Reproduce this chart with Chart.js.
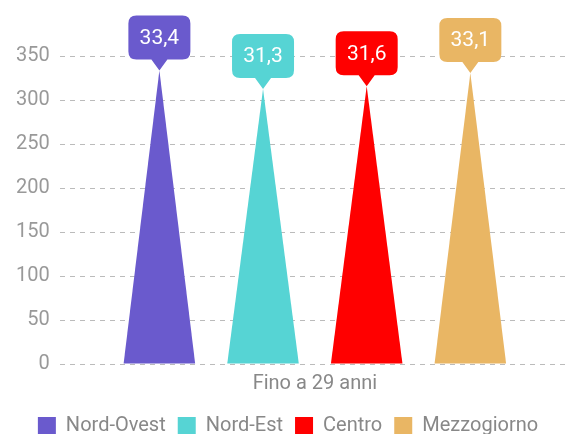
<!DOCTYPE html>
<html>
<head>
<meta charset="utf-8">
<script src="https://cdn.jsdelivr.net/npm/chart.js@4"></script>
<style>
  html, body { margin: 0; padding: 0; background: #fff; }
  #wrap { width: 571px; height: 434px; }
</style>
</head>
<body>
<div id="wrap"><canvas id="chart"></canvas></div>
<script>
const categories = ['Fino a 29 anni'];
const regions = ['Nord-Ovest', 'Nord-Est', 'Centro', 'Mezzogiorno'];
const heights = [334, 313, 316, 331];
const callouts = [33.4, 31.3, 31.6, 33.1];
const colors = ['#6a5acd', '#56d4d4', '#ff0000', '#e9b664'];
const yTicks = [0, 50, 100, 150, 200, 250, 300, 350];

// draw each bar as a triangle with a rounded callout on its tip
const pyramidPlugin = {
    id: 'pyramid',
    beforeDatasetDraw(chart, args) {
        const ctx = chart.ctx;
        const color = colors[args.index];
        args.meta.data.forEach(bar => {
            const half = bar.width / 2;
            ctx.save();
            ctx.fillStyle = color;
            ctx.beginPath();
            ctx.moveTo(bar.x - half, bar.base);
            ctx.lineTo(bar.x, bar.y);
            ctx.lineTo(bar.x + half, bar.base);
            ctx.closePath();
            ctx.fill();
            ctx.restore();
        });
        return false;
    },
    afterDatasetsDraw(chart) {
        const ctx = chart.ctx;
        chart.data.datasets.forEach((ds, i) => {
            chart.getDatasetMeta(i).data.forEach(bar => {
                const w = 62, h = 44, r = 8, tip = 11;
                const x = bar.x - w / 2;
                const y = bar.y - tip - h;
                ctx.save();
                ctx.fillStyle = colors[i];
                ctx.beginPath();
                ctx.moveTo(x + r, y);
                ctx.lineTo(x + w - r, y);
                ctx.quadraticCurveTo(x + w, y, x + w, y + r);
                ctx.lineTo(x + w, y + h - r);
                ctx.quadraticCurveTo(x + w, y + h, x + w - r, y + h);
                ctx.lineTo(bar.x + 8, y + h);
                ctx.lineTo(bar.x, bar.y);
                ctx.lineTo(bar.x - 8, y + h);
                ctx.lineTo(x + r, y + h);
                ctx.quadraticCurveTo(x, y + h, x, y + h - r);
                ctx.lineTo(x, y + r);
                ctx.quadraticCurveTo(x, y, x + r, y);
                ctx.closePath();
                ctx.fill();
                ctx.fillStyle = '#fff';
                ctx.font = '21px Roboto';
                ctx.textAlign = 'center';
                ctx.textBaseline = 'middle';
                ctx.fillText(callouts[i].toFixed(1).replace('.', ','), bar.x, y + h / 2 + 1);
                ctx.restore();
            });
        });
    }
};

new Chart(document.getElementById('chart'), {
    type: 'bar',
    data: {
        labels: categories,
        datasets: regions.map((name, i) => ({
            label: name,
            data: [heights[i]],
            backgroundColor: colors[i],
            borderWidth: 0
        }))
    },
    options: {
        responsive: true,
        maintainAspectRatio: false,
        animation: false,
        layout: { padding: { top: 30, left: 6, right: 1, bottom: -12 } },
        datasets: {
            bar: { categoryPercentage: 0.8125, barPercentage: 0.69 }
        },
        plugins: {
            legend: {
                position: 'bottom',
                labels: {
                    boxWidth: 18,
                    boxHeight: 18,
                    padding: 12,
                    color: '#888',
                    font: { family: 'Roboto', size: 20 }
                }
            },
            tooltip: { enabled: false }
        },
        scales: {
            x: {
                grid: { display: false },
                border: { display: false },
                afterFit(scale) {
                    scale.height = 40;
                },
                ticks: {
                    color: '#888',
                    padding: 0,
                    font: { family: 'Roboto', size: 20 }
                }
            },
            y: {
                min: 0,
                max: 380,
                afterBuildTicks(scale) {
                    scale.ticks = yTicks.map(v => ({ value: v }));
                },
                border: { display: false, dash: [5, 5] },
                grid: {
                    color: '#bbb',
                    drawTicks: false
                },
                ticks: {
                    color: '#999',
                    padding: 10,
                    font: { family: 'Roboto', size: 20 }
                }
            }
        }
    },
    plugins: [pyramidPlugin]
});
</script>
</body>
</html>
